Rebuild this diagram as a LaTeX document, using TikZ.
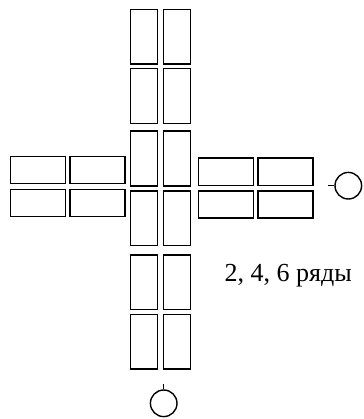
\documentclass[tikz,border=0pt]{standalone}
\usepackage{fontspec}
\setmainfont{Liberation Serif}
\usetikzlibrary{positioning}

\tikzset{
  vbrick/.style={draw, rectangle, inner sep=0pt, minimum width=0.548cm, minimum height=1.094cm},
  hbrick/.style={draw, rectangle, inner sep=0pt, minimum width=1.094cm, minimum height=0.548cm},
  ring/.style={draw, circle, inner sep=0pt, minimum size=0.532cm}
}

\begin{document}
\begin{tikzpicture}[x=0.02cm, y=-0.02cm, thick]
        \useasboundingbox (0,0) rectangle (364,419);

        % 竖排 (两列, 六行)
        \foreach \r/\y in {1/36.7, 2/96, 3/158.5, 4/218.3, 5/282.2, 6/341.7} {
            \node[vbrick] (vl\r) at (144,\y) {};
            \node[vbrick] (vr\r) at (177,\y) {};
        }

        % 左侧横排
        \foreach \c/\x in {1/38, 2/97.5} {
            \node[hbrick] (lt\c) at (\x,170) {};
            \node[hbrick] (lb\c) at (\x,203) {};
        }

        % 右侧横排
        \foreach \c/\x in {1/226, 2/285.5} {
            \node[hbrick] (rt\c) at (\x,171.7) {};
            \node[hbrick] (rb\c) at (\x,204.5) {};
        }

        % 右侧圆圈
        \node[ring] (east_ring) at (348.3,185.7) {};
        \coordinate (east_tip) at (328.3,185.7);
        \draw (east_tip) -- (east_ring);

        % 下方圆圈
        \node[ring] (south_ring) at (163.7,403.3) {};
        \coordinate (south_tip) at (163.7,384);
        \draw (south_tip) -- (south_ring);

        % 标注
        \node[anchor=base west, inner sep=0pt, font=\fontsize{14.8}{18}\selectfont] (rows_label) at (224,281.7) {2, 4, 6 ряды};
    \end{tikzpicture}
\end{document}
